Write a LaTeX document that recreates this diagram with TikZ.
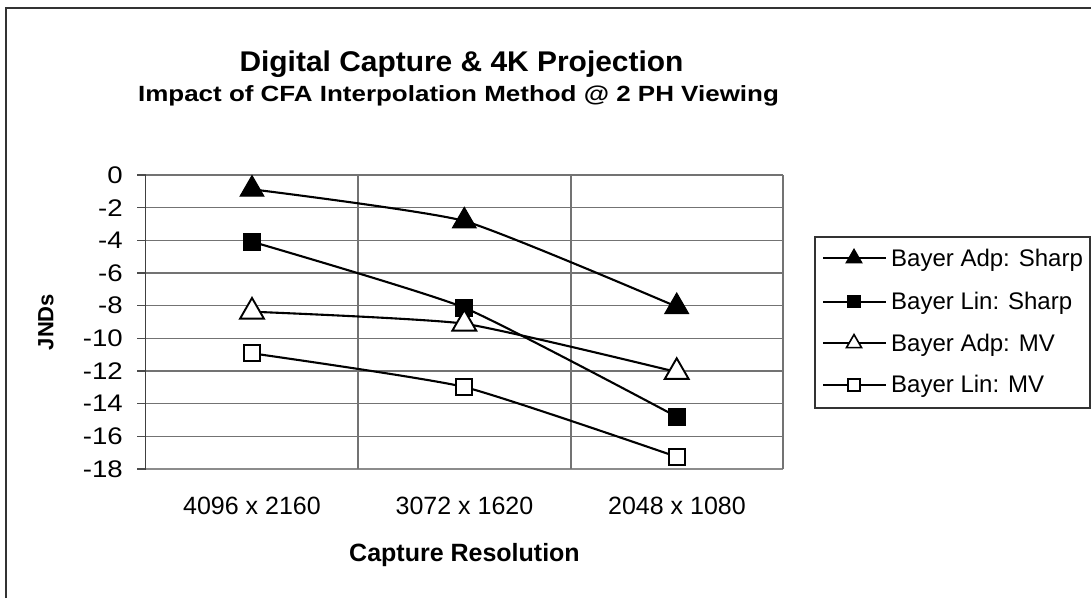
\documentclass[tikz,border=0pt]{standalone}
\usepackage{fontspec}
\setmainfont{Liberation Sans}
\usetikzlibrary{shapes.geometric}
\newcommand{\fsz}[1]{\fontsize{#1}{#1}\selectfont}
\begin{document}
\begin{tikzpicture}[x=1pt,y=-1pt,
  gridline/.style={draw=black!55, line width=1.2pt},
  ser/.style={draw=black, line width=2.1pt, smooth, tension=0.3},
  ftri/.style={regular polygon, regular polygon sides=3, fill=black, draw=black, line width=1pt, minimum size=27.5pt, inner sep=0pt},
  otri/.style={ftri, fill=white, line width=1.9pt},
  fsq/.style={rectangle, fill=black, draw=black, line width=1pt, minimum size=17pt, inner sep=0pt},
  osq/.style={fsq, fill=white, line width=1.9pt, minimum size=16pt},
  lftri/.style={ftri, minimum size=18.5pt},
  lotri/.style={otri, minimum size=17.5pt, line width=1.6pt},
  lfsq/.style={fsq, minimum size=12.5pt},
  losq/.style={osq, minimum size=11.5pt, line width=1.6pt},
  ylab/.style={anchor=east, inner sep=0pt, font=\fsz{24}, xscale=1.15},
  xlab/.style={anchor=base, inner sep=0pt, font=\fsz{25}},
  legtext/.style={anchor=base west, inner sep=0pt, font=\fsz{24}},
  legline/.style={draw=black, line width=2pt}
]
\useasboundingbox (0,0) rectangle (1091,598);
\fill[white] (0,0) rectangle (1091,598);
% outer frame (only left and top visible)
\draw[line width=2pt, black!80] (6,598) -- (6,8) -- (1091,8);

% titles
\node[anchor=base, inner sep=0pt, font=\bfseries\fsz{28.5}, xscale=1.05] (title) at (461.5,71) {Digital Capture \& 4K Projection};
\node[anchor=base, inner sep=0pt, font=\bfseries\fsz{22}, xscale=1.18] (subtitle) at (458.5,101.5) {Impact of CFA Interpolation Method @ 2 PH Viewing};

% plot grid
\foreach \i in {0,...,8} {
  \draw[gridline] (145.5,{175+\i*32.667}) -- (783,{175+\i*32.667});
  \draw[line width=1.2pt, black!70] (137,{175+\i*32.667}) -- (145.5,{175+\i*32.667});
}
\draw[line width=1.2pt, black!70] (137,469) -- (145.5,469);
\draw[line width=1.5pt, black!45] (145.5,469) -- (783,469);
\draw[gridline] (358,175) -- (358,469);
\draw[gridline] (571,175) -- (571,469);
\draw[line width=1.2pt, black!55] (783,175) -- (783,469);
\draw[line width=1.5pt, black!75] (145.5,175) -- (145.5,469.5);

% y labels
\foreach \v [count=\i from 0] in {0,-2,-4,-6,-8,-10,-12,-14,-16,-18} {
  \node[ylab] (yl\i) at (123,{175+\i*32.667}) {\v};
}
% x labels
\node[xlab] (xl1) at (252,514) {4096 x 2160};
\node[xlab] (xl2) at (464.5,514) {3072 x 1620};
\node[xlab] (xl3) at (677,514) {2048 x 1080};
% axis titles
\node[anchor=base, inner sep=0pt, font=\bfseries\fsz{25}] (xtitle) at (464.5,561.5) {Capture Resolution};
\node[rotate=90, inner sep=0pt, font=\bfseries\fsz{22}] (ytitle) at (46,322) {JNDs};

% data coordinates
\coordinate (a1) at (252,189.3);
\coordinate (a2) at (464.3,221);
\coordinate (a3) at (676.7,306.7);
\coordinate (b1) at (252,241.7);
\coordinate (b2) at (464.3,307.7);
\coordinate (b3) at (676.7,416.7);
\coordinate (c1) at (252,311.7);
\coordinate (c2) at (464.3,323.7);
\coordinate (c3) at (676.7,372);
\coordinate (d1) at (252,353.3);
\coordinate (d2) at (464.3,387);
\coordinate (d3) at (676.7,456.8);

% series curves
\draw[ser] plot coordinates {(a1) (a2) (a3)};
\draw[ser] plot coordinates {(b1) (b2) (b3)};
\draw[ser] plot coordinates {(c1) (c2) (c3)};
\draw[ser] plot coordinates {(d1) (d2) (d3)};

% markers
\foreach \p in {a1,a2,a3} \node[ftri] (m\p) at (\p) {};
\foreach \p in {b1,b2,b3} \node[fsq] (m\p) at (\p) {};
\foreach \p in {c1,c2,c3} \node[otri] (m\p) at (\p) {};
\foreach \p in {d1,d2,d3} \node[osq] (m\p) at (\p) {};

% legend
\draw[line width=1.3pt, black!80] (815,237) rectangle (1090,408);
\foreach \n/\y/\st/\t in {1/258.3/lftri/Bayer Adp: Sharp, 2/301.7/lfsq/Bayer Lin: Sharp, 3/343.3/lotri/Bayer Adp: MV, 4/385/losq/Bayer Lin: MV} {
  \coordinate (ls\n) at (823,\y);
  \coordinate (le\n) at (886,\y);
  \draw[legline] (ls\n) -- (le\n);
  \node[\st] (lm\n) at (854,\y) {};
  \node[legtext] (lt\n) at (891,\y+7.7) {\t};
}
\end{tikzpicture}
\end{document}
